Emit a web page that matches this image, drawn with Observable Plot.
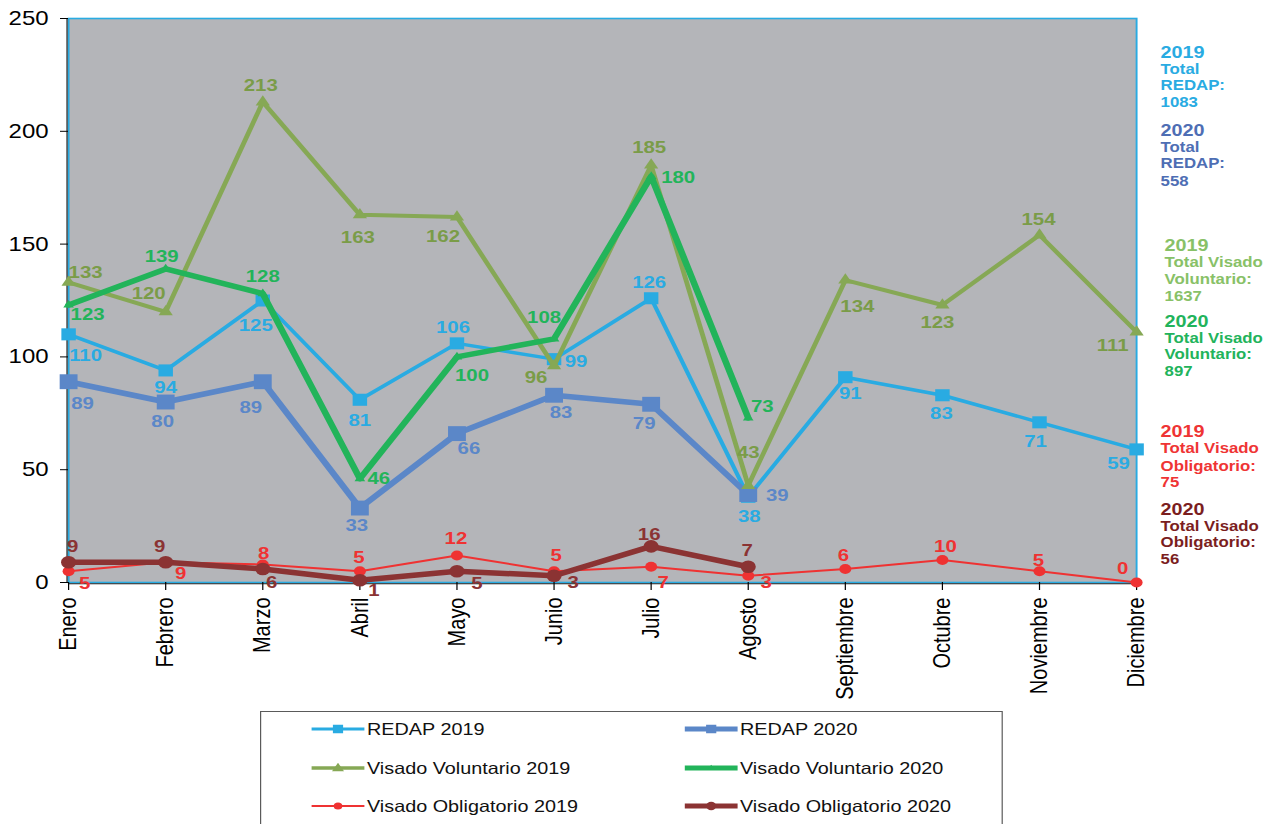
<!DOCTYPE html>
<html>
<head>
<meta charset="utf-8">
<script src="https://cdn.jsdelivr.net/npm/d3@7"></script>
<script src="https://cdn.jsdelivr.net/npm/@observablehq/plot@0.6"></script>
<style>
  body { margin: 0; background: #fff; font-family: "Liberation Sans", Arial, sans-serif; }
  #wrap { position: relative; width: 1278px; height: 824px; overflow: hidden; }
  #chart { position: absolute; left: 0; top: 0; transform: scaleX(1.2); transform-origin: 0 0; }
  #legend { position: absolute; left: 260px; top: 711px; width: 619px; height: 140px;
            border: 1.2px solid #5a5a5a; box-sizing: border-box; transform: scaleX(1.2); transform-origin: 0 0; }
  .item { position: absolute; height: 20px; display: flex; align-items: center; white-space: nowrap;
          font-size: 16.5px; color: #111; }
  .item svg { display: block; margin-right: 2.5px; }
</style>
</head>
<body>
<div id="wrap">
  <div id="chart"></div>
  <div id="legend"></div>
</div>
<script>
const S = 1.2; // horizontal stretch of the reference

// ---- data ----
const months = ["Enero","Febrero","Marzo","Abril","Mayo","Junio","Julio","Agosto","Septiembre","Octubre","Noviembre","Diciembre"];
const yTicks = [0, 50, 100, 150, 200, 250];
const redap2019 = [110, 94, 125, 81, 106, 99, 126, 38, 91, 83, 71, 59];
const redap2020 = [89, 80, 89, 33, 66, 83, 79, 39];
const visVol2019 = [133, 120, 213, 163, 162, 96, 185, 43, 134, 123, 154, 111];
const visVol2020 = [123, 139, 128, 46, 100, 108, 180, 73];
const visObl2019 = [5, 9, 8, 5, 12, 5, 7, 3, 6, 10, 5, 0];
const visObl2020 = [9, 9, 6, 1, 5, 3, 16, 7];

// ---- styles ----
const series = [
  {name: "REDAP 2019", values: redap2019, color: "#29abe2", labelColor: "#29abe2", sw: 3.5, symbol: "square", r: 6.8, col: 0, row: 0},
  {name: "REDAP 2020", values: redap2020, color: "#5b87c8", labelColor: "#5b87c8", sw: 5.5, symbol: "square", r: 8.4, col: 1, row: 0},
  {name: "Visado Voluntario 2019", values: visVol2019, color: "#86a855", labelColor: "#7a9c48", sw: 4, symbol: "triangle", r: 4.4, col: 0, row: 1},
  {name: "Visado Voluntario 2020", values: visVol2020, color: "#22b45a", labelColor: "#22b45a", sw: 5.5, symbol: "triangle", r: 3.3, col: 1, row: 1},
  {name: "Visado Obligatorio 2019", values: visObl2019, color: "#ef3232", labelColor: "#ef3232", sw: 2, symbol: "circle", r: 5, col: 0, row: 2},
  {name: "Visado Obligatorio 2020", values: visObl2020, color: "#8b3333", labelColor: "#8b3333", sw: 5.5, symbol: "circle", r: 6.3, col: 1, row: 2}
];

// label offsets (screen px) per point
const labelOffsets = {
  "REDAP 2019": [[17,21],[0,17],[-7,25],[0,21],[-4,-16],[22,2],[-2,-16],[1,20],[5,16],[-1,18],[-4,19],[-18,14]],
  "REDAP 2020": [[14,22],[-3,20],[-12,26],[-3,18],[12,15],[7,17],[-7,19],[29,1]],
  "Visado Voluntario 2019": [[17,-10],[-17,-18],[-2,-16],[-2,23],[-14,20],[-18,12],[-2,-18],[0,-33],[12,26],[-5,18],[-1,-16],[-24,13]],
  "Visado Voluntario 2020": [[19,10],[-4,-12],[0,-17],[19,0],[15,19],[-10,-21],[27,1],[14,-11]],
  "Visado Obligatorio 2019": [[16,12],[15,11],[1,-11],[-1,-14],[-1,-17],[2,-16],[12,16],[18,7],[-2,-13],[3,-13],[-1,-11],[-14,-14]],
  "Visado Obligatorio 2020": [[4,-16],[-6,-16],[9,14],[14,10],[20,12],[19,7],[-2,-12],[-1,-16]]
};

// side notes
const notes = [
  {x: 24, ys: [46, 64, 80, 97], color: "#29abe2", lines: ["2019", "Total", "REDAP:", String(d3.sum(redap2019))]},
  {x: 24, ys: [124, 142, 158, 176], color: "#4e6eb4", lines: ["2020", "Total", "REDAP:", String(d3.sum(redap2020))]},
  {x: 28, ys: [239, 257, 274, 291], color: "#88c167", lines: ["2019", "Total Visado", "Voluntario:", String(d3.sum(visVol2019))]},
  {x: 28, ys: [315, 333, 349, 366], color: "#22b35b", lines: ["2020", "Total Visado", "Voluntario:", String(d3.sum(visVol2020))]},
  {x: 24, ys: [425, 443, 461, 477], color: "#ef3434", lines: ["2019", "Total Visado", "Obligatorio:", String(d3.sum(visObl2019))]},
  {x: 24, ys: [503, 521, 537, 554], color: "#7b1e1e", lines: ["2020", "Total Visado", "Obligatorio:", String(d3.sum(visObl2020))]}
];

const marginTop = 18;
const marks = [
  Plot.frame({fill: "#b4b5b9", stroke: "none"}),
  Plot.frame({stroke: "#29abe2", strokeWidth: 1.6}),
  Plot.ruleX([months[0]], {stroke: "#1a1a1a", strokeWidth: 1, dx: -1.3}),
  Plot.ruleY([0], {stroke: "#1a1a1a", strokeWidth: 1, dy: 1.3}),
  Plot.axisY({ticks: yTicks, tickSize: 8 / S, tickPadding: 12 / S, fontSize: 20, color: "#000", label: null}),
  Plot.axisX({tickRotate: -90, tickSize: 8, tickPadding: 7, fontSize: 20, color: "#000", label: null})
];

for (const s of series) {
  const rows = s.values.map((v, i) => ({month: months[i], value: v}));
  marks.push(Plot.line(rows, {x: "month", y: "value", stroke: s.color, strokeWidth: s.sw}));
  marks.push(Plot.dot(rows, {x: "month", y: "value", symbol: s.symbol, r: s.r, fill: s.color, stroke: "none"}));
}
for (const s of series) {
  s.values.forEach((v, i) => {
    const [dx, dy] = labelOffsets[s.name][i];
    marks.push(Plot.text([{month: months[i], value: v}], {
      x: "month", y: "value", text: d => String(d.value), dx: dx / S, dy,
      fill: s.labelColor, fontSize: 17, fontWeight: "bold"
    }));
  });
}
for (const n of notes) {
  n.lines.forEach((t, k) => {
    marks.push(Plot.text([t], {
      text: d => d, frameAnchor: "top-right", dx: n.x / S, dy: n.ys[k] - marginTop,
      textAnchor: "start", fill: n.color, fontSize: k === 0 ? 16.5 : 14, fontWeight: "bold"
    }));
  });
}

const chart = Plot.plot({
  width: 1278 / S,
  height: 710,
  marginLeft: 68 / S,
  marginRight: 142 / S,
  marginTop,
  marginBottom: 128,
  x: {type: "point", domain: months, padding: 0, round: false, label: null},
  y: {domain: [0, 250], label: null},
  style: {fontFamily: "'Liberation Sans', Arial, sans-serif", background: "transparent", overflow: "visible"},
  marks
});
document.getElementById("chart").appendChild(chart);

// ---- legend ----
const legend = document.getElementById("legend");
const rowsY = [17, 56, 94];
const colX = [41.7, 352.5];
for (const s of series) {
  const item = document.createElement("div");
  item.className = "item";
  item.style.left = colX[s.col] + "px";
  item.style.top = (rowsY[s.row] - 10) + "px";
  const w = 44, cy = 10, cx = 22;
  let marker = "";
  const mr = s.symbol === "circle" ? (s.sw < 3 ? 3.6 : 4.2) : 0;
  if (s.symbol === "square") {
    const a = 8.5;
    marker = `<rect x="${cx - a / 2}" y="${cy - a / 2}" width="${a}" height="${a}" fill="${s.color}"/>`;
  } else if (s.symbol === "triangle") {
    const a = s.sw > 4.5 ? 6 : 10, h = a * 0.866;
    marker = `<polygon points="${cx},${cy - h * 0.62} ${cx - a / 2},${cy + h * 0.38} ${cx + a / 2},${cy + h * 0.38}" fill="${s.color}"/>`;
  } else {
    marker = `<circle cx="${cx}" cy="${cy}" r="${mr}" fill="${s.color}"/>`;
  }
  item.innerHTML = `<svg width="${w}" height="20"><line x1="0" x2="${w}" y1="${cy}" y2="${cy}" stroke="${s.color}" stroke-width="${Math.max(2, s.sw - 0.5)}" stroke-linecap="round"/>${marker}</svg><span>${s.name}</span>`;
  legend.appendChild(item);
}
</script>
</body>
</html>
